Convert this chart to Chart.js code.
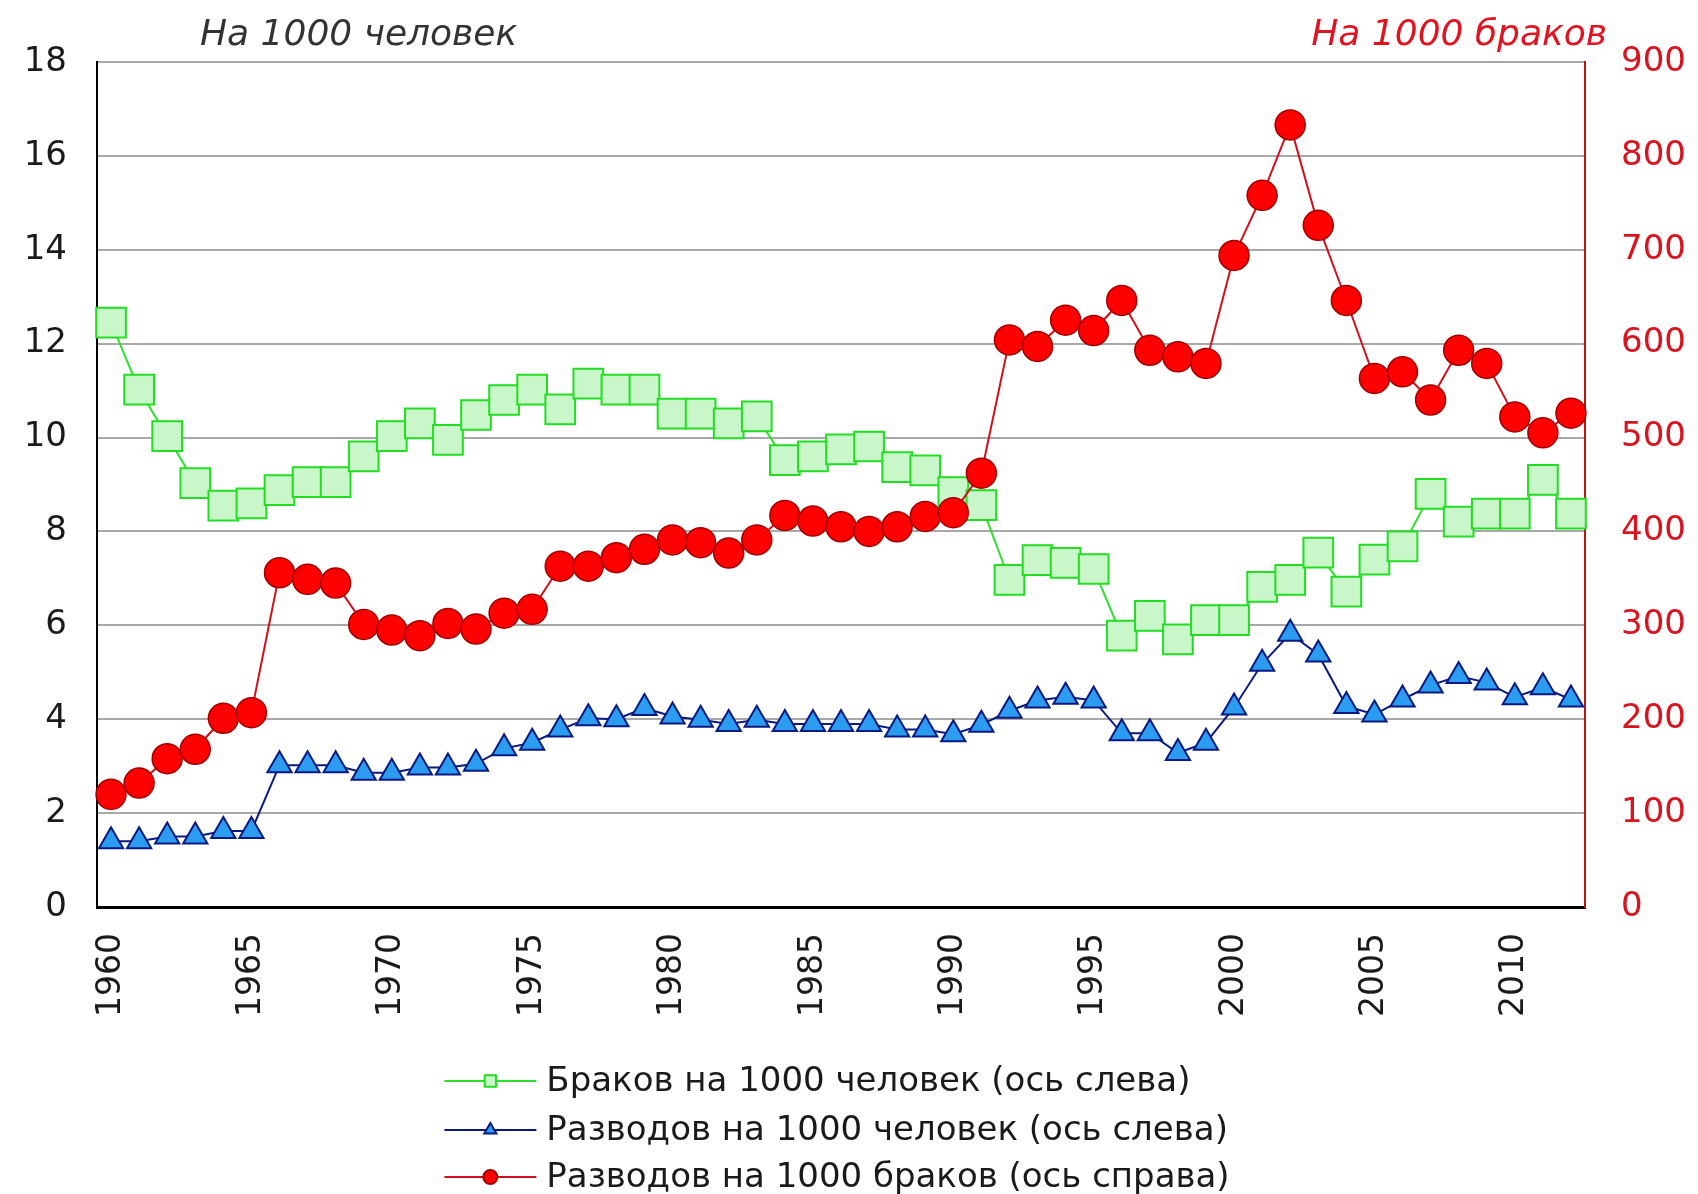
<!DOCTYPE html>
<html lang="ru">
<head>
<meta charset="utf-8">
<script src="https://cdn.jsdelivr.net/npm/chart.js@4/dist/chart.umd.min.js"></script>
<style>
  html, body { margin: 0; padding: 0; background: #fff; }
</style>
</head>
<body>
<canvas id="chart" width="1698" height="1194"></canvas>
<script>
// годы (категории)
const years = ['1960', '1961', '1962', '1963', '1964', '1965', '1966', '1967', '1968', '1969',
    '1970', '1971', '1972', '1973', '1974', '1975', '1976', '1977', '1978', '1979',
    '1980', '1981', '1982', '1983', '1984', '1985', '1986', '1987', '1988', '1989',
    '1990', '1991', '1992', '1993', '1994', '1995', '1996', '1997', '1998', '1999',
    '2000', '2001', '2002', '2003', '2004', '2005', '2006', '2007', '2008', '2009',
    '2010', '2011', '2012'];

// браков на 1000 человек (ось слева)
const marriagesPer1000 = [12.45, 11.02, 10.03, 9.03, 8.55, 8.6, 8.88, 9.05, 9.05, 9.6,
    10.03, 10.3, 9.95, 10.48, 10.8, 11.02, 10.6, 11.15, 11.02, 11.02,
    10.51, 10.51, 10.3, 10.45, 9.52, 9.6, 9.75, 9.81, 9.37, 9.3,
    8.84, 8.56, 6.97, 7.39, 7.33, 7.2, 5.78, 6.2, 5.7, 6.11,
    6.11, 6.82, 6.97, 7.55, 6.72, 7.4, 7.68, 8.8, 8.21, 8.38,
    8.38, 9.1, 8.38];

// разводов на 1000 человек (ось слева)
const divorcesPer1000 = [1.4, 1.4, 1.5, 1.5, 1.62, 1.62, 3.02, 3.02, 3.02, 2.86,
    2.86, 2.97, 2.97, 3.05, 3.38, 3.5, 3.78, 4.02, 4.0, 4.24,
    4.06, 3.99, 3.9, 3.99, 3.9, 3.9, 3.9, 3.9, 3.78, 3.78,
    3.68, 3.88, 4.18, 4.4, 4.48, 4.4, 3.7, 3.7, 3.28, 3.5,
    4.25, 5.18, 5.82, 5.38, 4.28, 4.1, 4.42, 4.72, 4.92, 4.78,
    4.47, 4.68, 4.42];

// разводов на 1000 браков (ось справа)
const divorcesPer1000Marriages = [120, 132, 158, 168, 201, 207, 356, 349, 345, 301,
    295, 289, 302, 296, 313, 317, 363, 363, 372, 381,
    391, 388, 377, 391, 417, 411, 405, 400, 405, 416,
    420, 462, 604, 597, 625, 614, 646, 593, 586, 579,
    694, 758, 833, 726, 646, 563, 570, 540, 593, 579,
    522, 505, 526];

const leftTitle = 'На 1000 человек';
const rightTitle = 'На 1000 браков';

Chart.defaults.font.family = "'DejaVu Sans', sans-serif";

// подписи над осями и легенда снизу
const extras = {
    id: 'extras',
    afterDraw(chart) {
        const ctx = chart.ctx;
        const area = chart.chartArea;
        ctx.save();
        ctx.textBaseline = 'middle';
        ctx.font = "oblique 36px 'DejaVu Sans'";
        ctx.fillStyle = '#333333';
        ctx.textAlign = 'left';
        ctx.fillText(leftTitle, area.left + 103, 36);
        ctx.fillStyle = '#e01420';
        ctx.textAlign = 'right';
        ctx.fillText(rightTitle, area.right + 22, 36);

        // легенда
        ctx.font = "34px 'DejaVu Sans'";
        const sets = chart.data.datasets;
        const textW = Math.max(...sets.map(d => ctx.measureText(d.label).width));
        const lineW = 92, gap = 10;
        const x0 = (area.left + area.right) / 2 - (lineW + gap + textW) / 2 - 4;
        const rowY = [1081, 1130, 1177];
        sets.forEach((d, i) => {
            const y = rowY[i];
            ctx.strokeStyle = d.borderColor;
            ctx.lineWidth = 2;
            ctx.beginPath();
            ctx.moveTo(x0, y);
            ctx.lineTo(x0 + lineW, y);
            ctx.stroke();
            ctx.fillStyle = d.pointBackgroundColor;
            ctx.strokeStyle = d.pointBorderColor;
            Chart.helpers.drawPoint(ctx, {
                pointStyle: d.pointStyle,
                radius: d.pointStyle === 'rect' ? 8 : 7,
                borderWidth: 1.5
            }, x0 + lineW / 2, y);
            ctx.fillStyle = '#1a1a1a';
            ctx.textAlign = 'left';
            ctx.fillText(d.label, x0 + lineW + gap, y + 1);
        });
        ctx.restore();
    }
};

new Chart(document.getElementById('chart'), {
    type: 'line',
    data: {
        labels: years,
        datasets: [
            {
                label: 'Браков на 1000 человек (ось слева)',
                data: marriagesPer1000,
                yAxisID: 'y',
                order: 3,
                borderColor: '#2ee02e',
                borderWidth: 2,
                pointStyle: 'rect',
                pointRadius: 21,
                pointBackgroundColor: '#c9f7c9',
                pointBorderColor: '#22dd22',
                pointBorderWidth: 2
            },
            {
                label: 'Разводов на 1000 человек (ось слева)',
                data: divorcesPer1000,
                yAxisID: 'y',
                order: 2,
                borderColor: '#0a1a80',
                borderWidth: 2,
                pointStyle: 'triangle',
                pointRadius: 14,
                pointBackgroundColor: '#2b9cf0',
                pointBorderColor: '#0a1a80',
                pointBorderWidth: 2
            },
            {
                label: 'Разводов на 1000 браков (ось справа)',
                data: divorcesPer1000Marriages,
                yAxisID: 'y2',
                order: 1,
                borderColor: '#d0101c',
                borderWidth: 2,
                pointStyle: 'circle',
                pointRadius: 15,
                pointBackgroundColor: '#ff0000',
                pointBorderColor: '#a00000',
                pointBorderWidth: 1.5
            }
        ]
    },
    options: {
        responsive: false,
        animation: false,
        layout: {
            padding: { top: 62, bottom: 147, left: 0, right: 0 }
        },
        scales: {
            x: {
                offset: true,
                grid: { display: false, drawTicks: false },
                border: { color: '#000000', width: 3 },
                ticks: {
                    autoSkip: false,
                    minRotation: 90,
                    maxRotation: 90,
                    padding: 26,
                    color: '#1a1a1a',
                    font: { size: 33 },
                    callback: function(value) {
                        const y = this.getLabelForValue(value);
                        return Number(y) % 5 === 0 ? y : null;
                    }
                },
                afterFit: (scale) => { scale.height = 140; }
            },
            y: {
                position: 'left',
                min: 0,
                max: 18,
                ticks: { stepSize: 2, padding: 30, color: '#1a1a1a', font: { size: 34 } },
                grid: { color: '#a8a8a8', lineWidth: 2, drawTicks: false },
                border: { color: '#000000', width: 2 },
                afterFit: (scale) => { scale.width = 97; }
            },
            y2: {
                position: 'right',
                min: 0,
                max: 900,
                ticks: { stepSize: 100, padding: 36, color: '#d8141e', font: { size: 34 } },
                grid: { drawOnChartArea: false, drawTicks: false },
                border: { color: '#c01010', width: 2 },
                afterFit: (scale) => { scale.width = 113; }
            }
        },
        plugins: {
            legend: { display: false },
            tooltip: { enabled: false }
        }
    },
    plugins: [extras]
});
</script>
</body>
</html>
